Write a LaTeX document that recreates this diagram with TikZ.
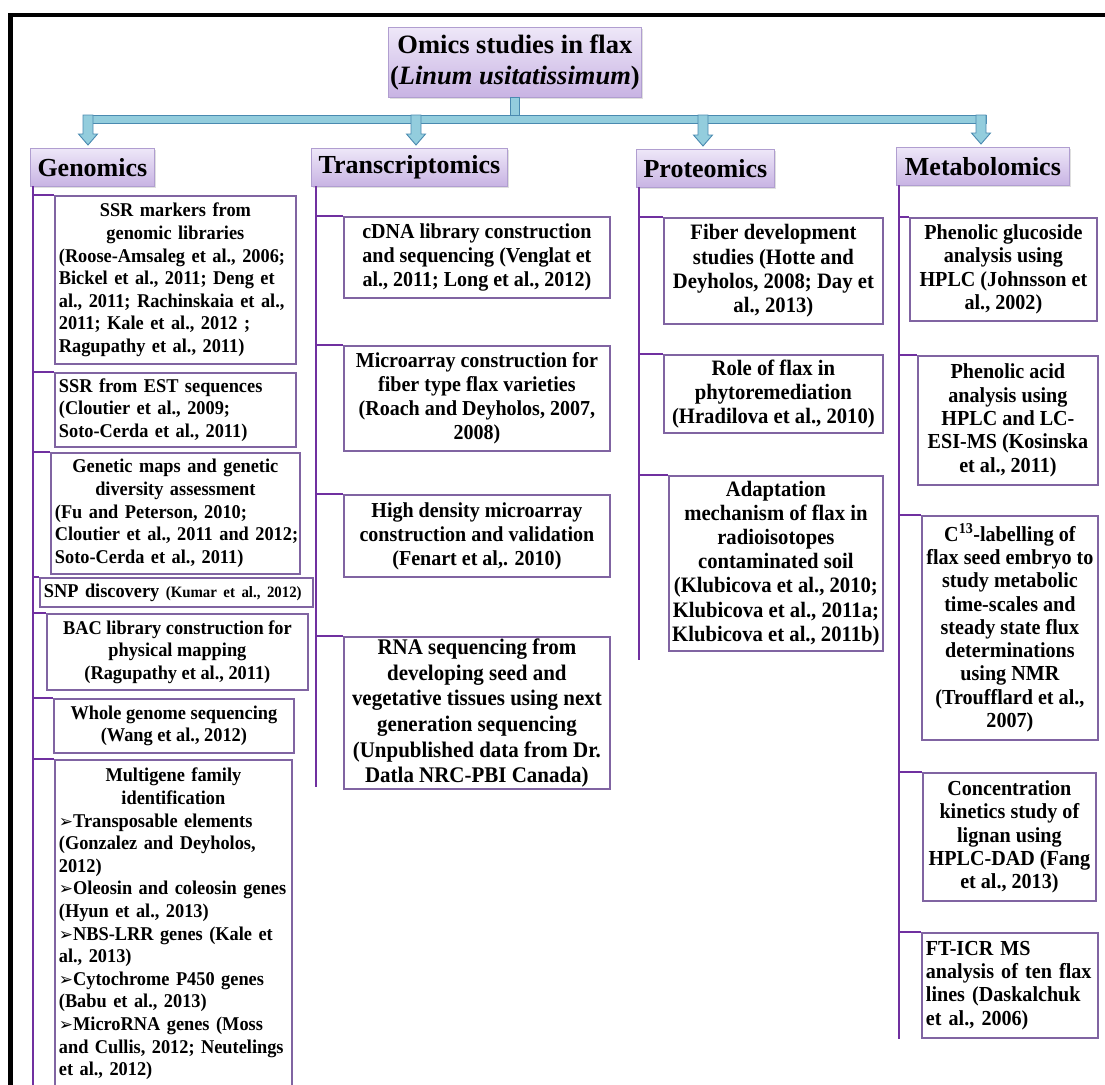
\documentclass[tikz,border=0pt]{standalone}
\usepackage{fontspec}
\setmainfont{Liberation Serif}
\newfontfamily\bodyfont[FakeStretch=0.94]{Liberation Serif}
\newfontfamily\dingfont{DejaVu Sans}
\usetikzlibrary{calc,shadows}

\definecolor{boxline}{HTML}{8064A2}
\definecolor{linkline}{HTML}{7030A0}
\definecolor{headtop}{HTML}{EEE7F8}
\definecolor{headbot}{HTML}{C8B3E3}
\definecolor{headline}{HTML}{B09ED0}
\definecolor{blockfill}{HTML}{93CDDD}
\definecolor{blockline}{HTML}{4A8AB0}

% one line of a box, centred or flush left
\newcommand\cl[1]{\makebox[\linewidth]{#1}}
\newcommand\lf[1]{\makebox[\linewidth][l]{#1}}
\newcommand\bul{{\dingfont\fontsize{17pt}{17pt}\selectfont\raisebox{0pt}{➢}}}
\newcommand\bodysize[2]{\fontsize{#1pt}{#2pt}\selectfont}

% \entry{name}{x1}{y1}{x2}{y2}{options}{text}: box with a fixed text width
\newcommand\entry[7]{%
  \pgfmathsetmacro\ew{#4-#2}%
  \pgfmathsetmacro\eh{#5-#3}%
  \pgfmathsetmacro\tw{#4-#2-8}%
  \node[item, minimum width=\ew pt, minimum height=\eh pt, text width=\tw pt, #6] (#1) at (#2,#3) {#7};}
% \centry: same, with centred lines that are never rebroken
\newcommand\centry[7]{%
  \pgfmathsetmacro\ew{#4-#2}%
  \pgfmathsetmacro\eh{#5-#3}%
  \node[item, minimum width=\ew pt, minimum height=\eh pt, #6] (#1) at (#2,#3) {#7};}

\begin{document}
\begin{tikzpicture}[x=1pt, y=-1pt,
  item/.style={draw=boxline, line width=1.8pt, fill=white, anchor=north west,
    inner xsep=4pt, inner ysep=2pt, align=center,
    font=\bodyfont\bfseries\bodysize{19.5}{22.6}},
  head/.style={draw=headline, line width=0.8pt, top color=headtop, bottom color=headbot,
    drop shadow={shadow xshift=2pt, shadow yshift=-2pt, opacity=0.25},
    anchor=north west, inner sep=0pt, align=center,
    font=\bfseries\bodysize{26}{30}},
  link/.style={draw=linkline, line width=1.8pt},
  blk/.style={draw=blockline, fill=blockfill, line width=0.9pt, line join=miter},
  frame/.style={draw=black, line width=4.5pt}
]
\useasboundingbox (0,0) rectangle (1105,1084);

% outer frame (top and left sides)
\coordinate (fTL) at (10.5,15);
\coordinate (fTR) at (1110,15);
\coordinate (fBL) at (10.5,1090);
\draw[frame] (fTR) -- (fTL) -- (fBL);

% title
\node[head, minimum width=253pt, minimum height=70pt, font=\bfseries\bodysize{26.5}{31}]
  (title) at (388,27) {Omics studies in flax\\(\textit{Linum usitatissimum})};

% column headings
\node[head, minimum width=124pt, minimum height=38pt] (gen) at (30,148) {Genomics};
\node[head, minimum width=196pt, minimum height=38pt] (tra) at (311,148) {Transcriptomics};
\node[head, minimum width=138pt, minimum height=38pt] (pro) at (636,149) {Proteomics};
\node[head, minimum width=173pt, minimum height=38pt] (met) at (896,147) {Metabolomics};

% block arrows from the title to the headings
\coordinate (barL) at (83,115);
\coordinate (barR) at (986,123);
\coordinate (aG) at (88,115);
\coordinate (aT) at (416,115);
\coordinate (aP) at (703,115);
\coordinate (aM) at (981,115);
\draw[blk] ($(title.south)+(-4.5,0)$) rectangle ($(title.south |- barL)+(4.5,4)$);
\draw[blk] (barL) rectangle (barR);
\foreach \a/\h in {aG/gen, aT/tra, aP/pro, aM/met}{
  \draw[blk] let \p1=(\a), \p2=($(\a |- \h.north)+(0,-3)$) in
    (\x1-5pt,\y1) -- (\x1+5pt,\y1) -- (\x1+5pt,\y2+11pt) -- (\x1+9.5pt,\y2+11pt)
    -- (\x1,\y2) -- (\x1-9.5pt,\y2+11pt) -- (\x1-5pt,\y2+11pt) -- cycle;
}

% trunk lines under each heading
\coordinate (gv) at (33,186);   \coordinate (gvE) at (33,1090);
\coordinate (tv) at (316,186);  \coordinate (tvE) at (316,787);
\coordinate (pv) at (639,187);  \coordinate (pvE) at (639,660);
\coordinate (mv) at (899,185);  \coordinate (mvE) at (899,1039);
\draw[link] (gv) -- (gvE);
\draw[link] (tv) -- (tvE);
\draw[link] (pv) -- (pvE);
\draw[link] (mv) -- (mvE);

% ---------------- Genomics
\entry{g1}{54}{195}{295}{363}{}{\cl{SSR markers from}\\\cl{genomic libraries}\\
  \lf{(Roose-Amsaleg et al., 2006;}\\\lf{Bickel et al., 2011; Deng et}\\
  \lf{al., 2011; Rachinskaia et al.,}\\\lf{2011; Kale et al., 2012 ;}\\
  \lf{Ragupathy et al., 2011)}}
\entry{g2}{54}{372}{295}{446}{}{\lf{SSR from EST sequences}\\
  \lf{(Cloutier et al., 2009;}\\\lf{Soto-Cerda et al., 2011)}}
\entry{g3}{50}{452}{299}{573}{}{\cl{Genetic maps and genetic}\\\cl{diversity assessment}\\
  \lf{(Fu and Peterson, 2010;}\\\lf{Cloutier et al., 2011 and 2012;}\\
  \lf{Soto-Cerda et al., 2011)}}
\entry{g4}{39}{577}{312}{606}{}{\lf{SNP discovery {\bodysize{15.8}{18}(Kumar et al., 2012)}}}
\centry{g5}{46}{613}{307}{689}{}{BAC library construction for\\physical mapping\\(Ragupathy et al., 2011)}
\centry{g6}{53}{698}{293}{752}{}{Whole genome sequencing\\(Wang et al., 2012)}
\entry{g7}{54}{759}{291}{1087}{}{\cl{Multigene family}\\\cl{identification}\\
  \lf{\bul Transposable elements}\\\lf{(Gonzalez and Deyholos,}\\\lf{2012)}\\
  \lf{\bul Oleosin and coleosin genes}\\\lf{(Hyun et al., 2013)}\\
  \lf{\bul NBS-LRR genes (Kale et}\\\lf{al., 2013)}\\
  \lf{\bul Cytochrome P450 genes}\\\lf{(Babu et al., 2013)}\\
  \lf{\bul MicroRNA genes (Moss}\\\lf{and Cullis, 2012; Neutelings}\\\lf{et al., 2012)}}
\foreach \b in {g1,g2,g3,g4,g5,g6,g7}{\draw[link] (\b.north west -| gv) -- (\b.north west);}

% ---------------- Transcriptomics
\tikzset{tcol/.style={font=\bodyfont\bfseries\bodysize{21.3}{24}}}
\centry{t1}{343}{216}{609}{297}{tcol}{cDNA library construction\\and sequencing (Venglat et\\al., 2011; Long et al., 2012)}
\centry{t2}{343}{345}{609}{450}{tcol}{Microarray construction for\\fiber type flax varieties\\(Roach and Deyholos, 2007,\\2008)}
\centry{t3}{343}{494}{609}{576}{tcol}{High density microarray\\construction and validation\\(Fenart et al,. 2010)}
\centry{t4}{343}{636}{609}{785}{font=\bodyfont\bfseries\bodysize{22.3}{25.6}}{RNA sequencing from\\developing seed and\\vegetative tissues using next\\generation sequencing\\(Unpublished data from Dr.\\Datla NRC-PBI Canada)}
\foreach \b in {t1,t2,t3,t4}{\draw[link] (\b.north west -| tv) -- (\b.north west);}

% ---------------- Proteomics
\tikzset{pcol/.style={font=\bodyfont\bfseries\bodysize{22}{24.2}, inner xsep=1pt}}
\centry{p1}{663}{217}{882}{323}{pcol}{Fiber development\\studies (Hotte and\\Deyholos, 2008; Day et\\al., 2013)}
\centry{p2}{663}{354}{882}{432}{pcol}{Role of flax in\\phytoremediation\\(Hradilova et al., 2010)}
\centry{p3}{668}{475}{882}{650}{pcol}{Adaptation\\mechanism of flax in\\radioisotopes\\contaminated soil\\(Klubicova et al., 2010;\\Klubicova et al., 2011a;\\Klubicova et al., 2011b)}
\foreach \b in {p1,p2,p3}{\draw[link] (\b.north west -| pv) -- (\b.north west);}

% ---------------- Metabolomics
\tikzset{mcol/.style={font=\bodyfont\bfseries\bodysize{21.4}{23.3}, inner xsep=1pt}}
\centry{m1}{909}{217}{1096}{320}{mcol}{Phenolic glucoside\\analysis using\\HPLC (Johnsson et\\al., 2002)}
\centry{m2}{917}{355}{1097}{484}{mcol}{Phenolic acid\\analysis using\\HPLC and LC-\\ESI-MS (Kosinska\\et al., 2011)}
\centry{m3}{921}{515}{1097}{739}{mcol}{C\textsuperscript{13}-labelling of\\flax seed embryo to\\study metabolic\\time-scales and\\steady state flux\\determinations\\using NMR\\(Troufflard et al.,\\2007)}
\centry{m4}{922}{772}{1095}{900}{mcol}{Concentration\\kinetics study of\\lignan using\\HPLC-DAD (Fang\\et al., 2013)}
\entry{m5}{921}{932}{1097}{1037}{mcol, inner xsep=4pt}{\lf{FT-ICR MS}\\\lf{analysis of ten flax}\\\lf{lines (Daskalchuk}\\\lf{et al., 2006)}}
\foreach \b in {m1,m2,m3,m4,m5}{\draw[link] (\b.north west -| mv) -- (\b.north west);}
\end{tikzpicture}
\end{document}
